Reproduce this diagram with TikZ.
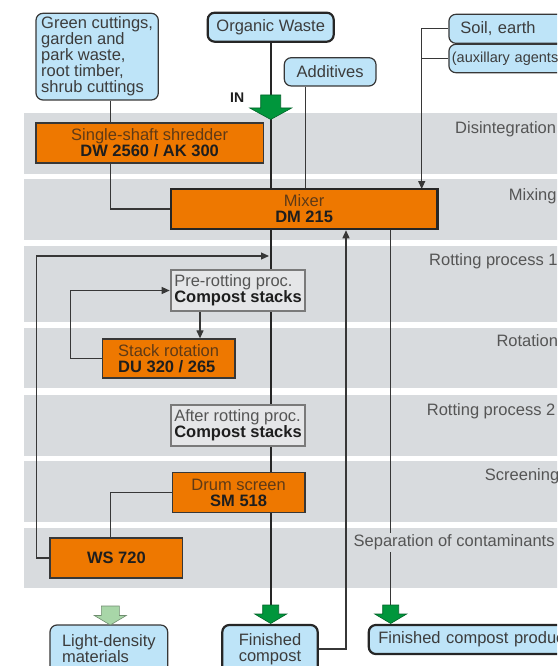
\documentclass[tikz,border=0pt]{standalone}
\usepackage{fontspec}
\setmainfont{Liberation Sans}
\usetikzlibrary{arrows.meta}
\definecolor{band}{RGB}{216,219,222}
\definecolor{blu}{RGB}{190,228,248}
\definecolor{org}{RGB}{238,120,0}
\definecolor{orgtxt}{RGB}{95,58,22}
\definecolor{gryfill}{RGB}{229,230,232}
\definecolor{grybord}{RGB}{122,122,122}
\definecolor{lbl}{RGB}{85,85,85}
\definecolor{ln}{RGB}{55,55,55}
\definecolor{dtxt}{RGB}{60,60,60}
\definecolor{btxt}{RGB}{30,30,30}
\definecolor{grn}{RGB}{0,150,60}
\definecolor{grnd}{RGB}{0,100,40}
\definecolor{lgrn}{RGB}{168,214,168}
\definecolor{lgrnd}{RGB}{110,140,110}
\newcommand\myfs{\fontsize{16.5}{16}\selectfont}
\newcommand\mysmallfs{\fontsize{14.5}{15}\selectfont}
\begin{document}
\begin{tikzpicture}[x=1pt,y=-1pt,
  bluebox/.style={draw=ln, line width=1.2pt, fill=blu, rounded corners=7pt, inner sep=0pt, text=dtxt, font=\myfs},
  thickblue/.style={bluebox, draw=black!85, line width=2.2pt},
  orgbox/.style={draw=ln, line width=1.3pt, fill=org, inner sep=0pt, align=center, text=btxt, font=\myfs},
  grbox/.style={draw=grybord, line width=2.6pt, fill=gryfill, inner sep=0pt, align=left, text=btxt, font=\myfs},
  conn/.style={draw=ln, line width=1.2pt},
  mainln/.style={draw=black!85, line width=2.2pt},
  arr/.style={-{Triangle[length=8pt,width=7pt]}},
  bandlbl/.style={anchor=base west, text=lbl, font=\myfs, inner sep=0pt},
  garrow/.style={fill=grn, draw=grnd, line width=0.6pt, line join=miter},
  lgarrow/.style={fill=lgrn, draw=lgrnd, line width=0.6pt, line join=miter}
]
\useasboundingbox (0,0) rectangle (557,666);
\clip (0,0) rectangle (557,666);

% bands
\fill[band] (23.5,113) rectangle (570,174);
\fill[band] (23.5,179) rectangle (570,240);
\fill[band] (23.5,246) rectangle (570,322);
\fill[band] (23.5,328) rectangle (570,388);
\fill[band] (23.5,395) rectangle (570,456);
\fill[band] (23.5,461) rectangle (570,522);
\fill[band] (23.5,528) rectangle (570,588);

% helper x positions
\coordinate (mx) at (270.7,0);
\coordinate (cg) at (110.7,0);
\coordinate (ca) at (305.3,0);
\coordinate (cs) at (421.7,0);
\coordinate (cp) at (200,0);
\coordinate (cw) at (110.3,0);
\coordinate (cr) at (390.7,0);
\coordinate (cb) at (346,0);
\coordinate (lo1) at (36.3,256);
\coordinate (lo2) at (269,256);
\coordinate (li) at (70.3,290.5);
\coordinate (mainend) at (270.7,606);
\coordinate (prodend) at (390.7,606);

% top input boxes
\node[bluebox, align=left, minimum width=122.3pt, minimum height=86.7pt] (gc) at (97.15,56.65)
  {Green cuttings,\\garden and\\park waste,\\root timber,\\shrub cuttings};
\node[thickblue, minimum width=126pt, minimum height=29pt] (ow) at (270.7,27.2) {Organic Waste};
\node[bluebox, minimum width=91.7pt, minimum height=28.3pt] (add) at (330.15,71.85) {Additives};
\node[bluebox, anchor=west, text width=135pt, align=left, inner xsep=11.5pt, minimum height=29pt] (soil) at (448.3,28.8) {Soil, earth};
\node[bluebox, anchor=west, text width=150pt, align=left, inner xsep=3pt, minimum height=28.4pt, font=\mysmallfs] (aux) at (448.3,58.5) {(auxillary agents)};

% main line
\draw[mainln] (ow.south) -- (mainend);

% connectors
\draw[conn] (gc.south -| cg) -- (cg |- 123,123);
\draw[conn] (ca |- add.south) -- (ca |- 189,189);
\draw[conn, arr] (soil.west) -| (cs |- 189,189);
\draw[conn] (aux.west) -- (aux.west -| cs);
\draw[conn] (cg |- 163,163) |- (171,209);
\draw[conn] (cr |- 229,229) -- (prodend);

% boxes
\node[orgbox, minimum width=227.3pt, minimum height=40pt] (shred) at (149.65,143)
  {\textcolor{orgtxt}{Single-shaft shredder}\\\textbf{DW 2560 / AK 300}};
\node[orgbox, line width=2.5pt, draw=black!85, minimum width=266.3pt, minimum height=40pt] (mix) at (304.15,209)
  {\textcolor{orgtxt}{Mixer}\\\textbf{DM 215}};
\node[grbox, minimum width=134pt, minimum height=41pt] (pre) at (238,290.5)
  {\textcolor{lbl}{Pre-rotting proc.}\\\textbf{Compost stacks}};
\node[orgbox, align=left, minimum width=132.7pt, minimum height=39pt] (rot) at (168.65,358.5)
  {\textcolor{orgtxt}{Stack rotation}\\\textbf{DU 320 / 265}};
\node[grbox, minimum width=134pt, minimum height=41pt] (aft) at (238,425.5)
  {\textcolor{lbl}{After rotting proc.}\\\textbf{Compost stacks}};
\node[orgbox, minimum width=132.7pt, minimum height=39.5pt] (drum) at (238.65,492.5)
  {\textcolor{orgtxt}{Drum screen}\\\textbf{SM 518}};
\node[orgbox, minimum width=132.7pt, minimum height=40pt] (ws) at (116.35,558) {\textbf{WS 720}};

% loops and links
\draw[conn, arr] (ws.west) -| (lo1) -- (lo2);
\draw[conn, arr] (rot.west) -| (li) -- (pre.west);
\draw[conn, arr] (pre.south -| cp) -- (rot.north -| cp);
\draw[conn] (drum.west) -| (ws.north -| cw);

% output boxes
\node[bluebox, align=left, minimum width=117.7pt, minimum height=48pt] (ld) at (108.85,649) {Light-density\\materials};
\node[thickblue, align=center, minimum width=95.4pt, minimum height=48pt] (fc) at (270,649) {Finished\\compost};
\node[thickblue, anchor=west, text width=200pt, align=left, inner xsep=9.5pt, minimum height=29pt] (fcp) at (367.7,639.5) {Finished compost product};

\draw[conn, arr] (fc.east) -| (cb |- mix.south);

% block arrows
\draw[garrow, shift={(270.7,95)}] (-10,0) -- (10,0) -- (10,13) -- (21,13) -- (0,24.5) -- (-21,13) -- (-10,13) -- cycle;
\draw[garrow, shift={(270.7,605)}] (-8,0) -- (8,0) -- (8,9) -- (16,9) -- (0,18.5) -- (-16,9) -- (-8,9) -- cycle;
\draw[garrow, shift={(390.7,605)}] (-8,0) -- (8,0) -- (8,9) -- (16,9) -- (0,18.5) -- (-16,9) -- (-8,9) -- cycle;
\draw[lgarrow, shift={(110.3,606)}] (-9,0) -- (9,0) -- (9,9.5) -- (16,9.5) -- (0,19) -- (-16,9.5) -- (-9,9.5) -- cycle;

\node[anchor=base west, inner sep=0pt, font=\fontsize{14}{14}\selectfont\bfseries, text=btxt] (in) at (230,102.7) {IN};

% band labels
\node[bandlbl] (l1) at (455,133.3) {Disintegration};
\node[bandlbl] (l2) at (508.7,200) {Mixing};
\node[bandlbl] (l3) at (429,265.7) {Rotting process 1};
\node[bandlbl] (l4) at (496.3,346.7) {Rotation};
\node[bandlbl] (l5) at (426.7,415) {Rotting process 2};
\node[bandlbl] (l6) at (484.7,480) {Screening};
\node[bandlbl, fill=band, inner xsep=1pt, inner ysep=2pt] (l7) at (352.5,546.7) {Separation of contaminants};
\end{tikzpicture}
\end{document}
